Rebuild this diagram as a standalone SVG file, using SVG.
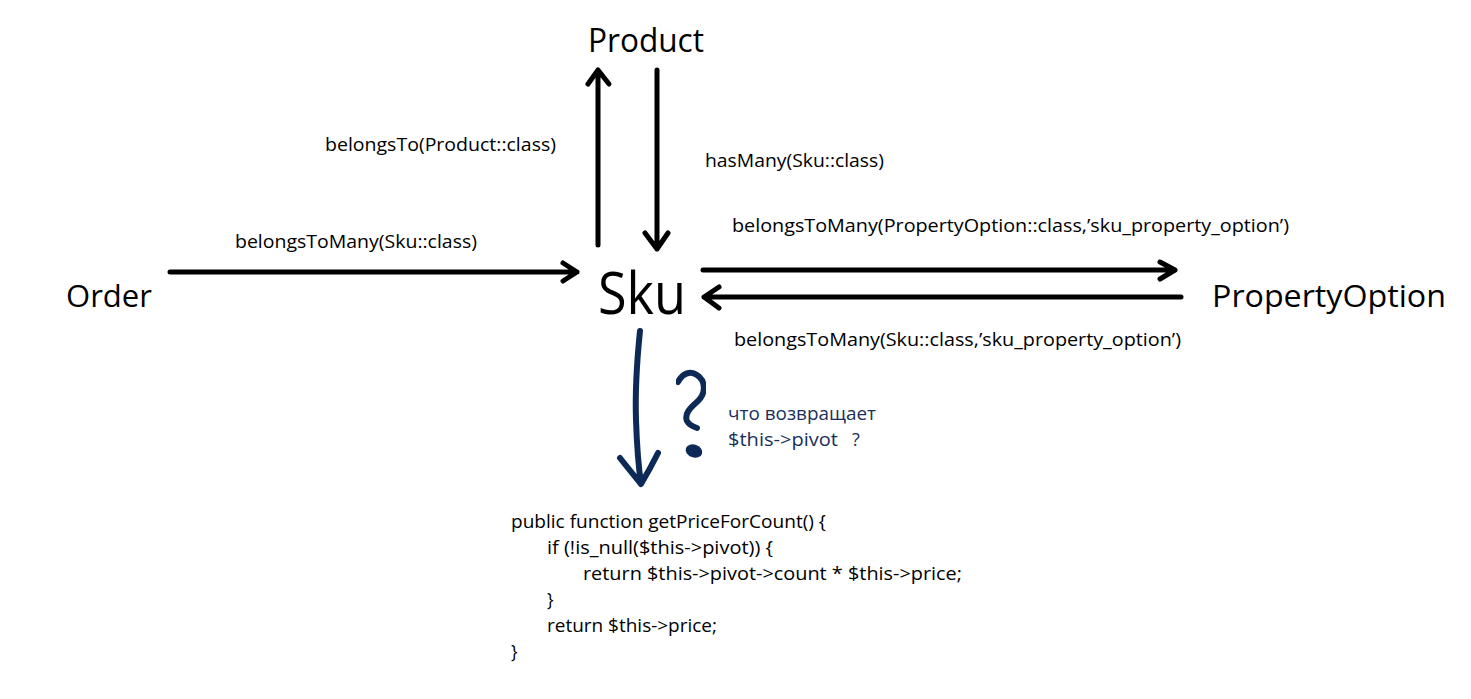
<svg xmlns="http://www.w3.org/2000/svg" width="1471" height="699" viewBox="0 0 1471 699">
<style>
text{font-family:"Open Sans","Noto Sans","Liberation Sans",sans-serif;fill:#000}
.big{font-size:31px}
.lbl{font-size:18px}
.code{font-size:17.5px}
.ru{font-size:18px;fill:#1b2f5c}
.arr{fill:none;stroke:#000;stroke-width:5;stroke-linecap:round;stroke-linejoin:round}
.blue{fill:none;stroke:#0f2a56;stroke-width:6;stroke-linecap:round;stroke-linejoin:round}
</style>
<defs>
<filter id="soft" x="-5%" y="-5%" width="110%" height="110%"><feGaussianBlur stdDeviation="0.7"/></filter>
</defs>
<rect width="1471" height="699" fill="#fff"/>
<g id="product"><text class="big" x="588" y="52" textLength="116" lengthAdjust="spacingAndGlyphs" style="font-size:33px">Product</text></g>
<g id="order"><text class="big" x="66" y="307" textLength="86" lengthAdjust="spacingAndGlyphs">Order</text></g>
<g id="sku"><text x="598" y="314" textLength="88" lengthAdjust="spacingAndGlyphs" style="font-size:58px">Sku</text></g>
<g id="propertyoption"><text class="big" x="1212" y="307" textLength="234" lengthAdjust="spacingAndGlyphs">PropertyOption</text></g>
<g id="connectors" filter="url(#soft)">
<path class="arr" d="M598 245 V70 M588 84 L598 70 L609 84"/>
<path class="arr" d="M657 70 V249 M645 233 L657 249 L668 233"/>
<path class="arr" d="M170 272 H577 M563 263 L577 272 L563 281"/>
<path class="arr" d="M703 270 H1175 M1160 262 L1175 270 L1160 279"/>
<path class="arr" d="M1181 297 H704 M719 287 L704 297 L719 308"/>
<path class="blue" d="M640 331 C637 360 635 390 636 420 C637 450 639 470 641 484 M620 458 C628 468 636 478 641 484 C647 474 653 463 658 453"/>
</g>
<g id="edge-labels">
<text class="lbl" x="325" y="151" textLength="231" lengthAdjust="spacingAndGlyphs">belongsTo(Product::class)</text>
<text class="lbl" x="705" y="167" textLength="179" lengthAdjust="spacingAndGlyphs">hasMany(Sku::class)</text>
<text class="lbl" x="732" y="232" textLength="557" lengthAdjust="spacingAndGlyphs">belongsToMany(PropertyOption::class,’sku_property_option’)</text>
<text class="lbl" x="235" y="248" textLength="242" lengthAdjust="spacingAndGlyphs">belongsToMany(Sku::class)</text>
<text class="lbl" x="734" y="346" textLength="447" lengthAdjust="spacingAndGlyphs">belongsToMany(Sku::class,’sku_property_option’)</text>
</g>
<g id="question" filter="url(#soft)">
<path class="blue" d="M678 382 C682 374 690 370 697 375 C706 381 706 393 698 401 C690 408 684 414 687 421 C689 425 694 427 697 428"/>
<ellipse cx="694" cy="451" rx="8.5" ry="6.5" transform="rotate(20 694 451)" fill="#0f2a56"/>
</g>
<g id="note">
<text class="ru" x="728" y="420" textLength="148" lengthAdjust="spacingAndGlyphs">что возвращает</text>
<text class="ru" x="728" y="446" textLength="110" lengthAdjust="spacingAndGlyphs">$this-&gt;pivot</text>
<text class="ru" x="852" y="446">?</text>
</g>
<g id="code">
<text class="code" x="511" y="528" textLength="315" lengthAdjust="spacingAndGlyphs">public function getPriceForCount() {</text>
<text class="code" x="547" y="554" textLength="226" lengthAdjust="spacingAndGlyphs">if (!is_null($this-&gt;pivot)) {</text>
<text class="code" x="583" y="580" textLength="379" lengthAdjust="spacingAndGlyphs">return $this-&gt;pivot-&gt;count * $this-&gt;price;</text>
<text class="code" x="547" y="606">}</text>
<text class="code" x="547" y="632" textLength="170" lengthAdjust="spacingAndGlyphs">return $this-&gt;price;</text>
<text class="code" x="511" y="658">}</text>
</g>
</svg>
